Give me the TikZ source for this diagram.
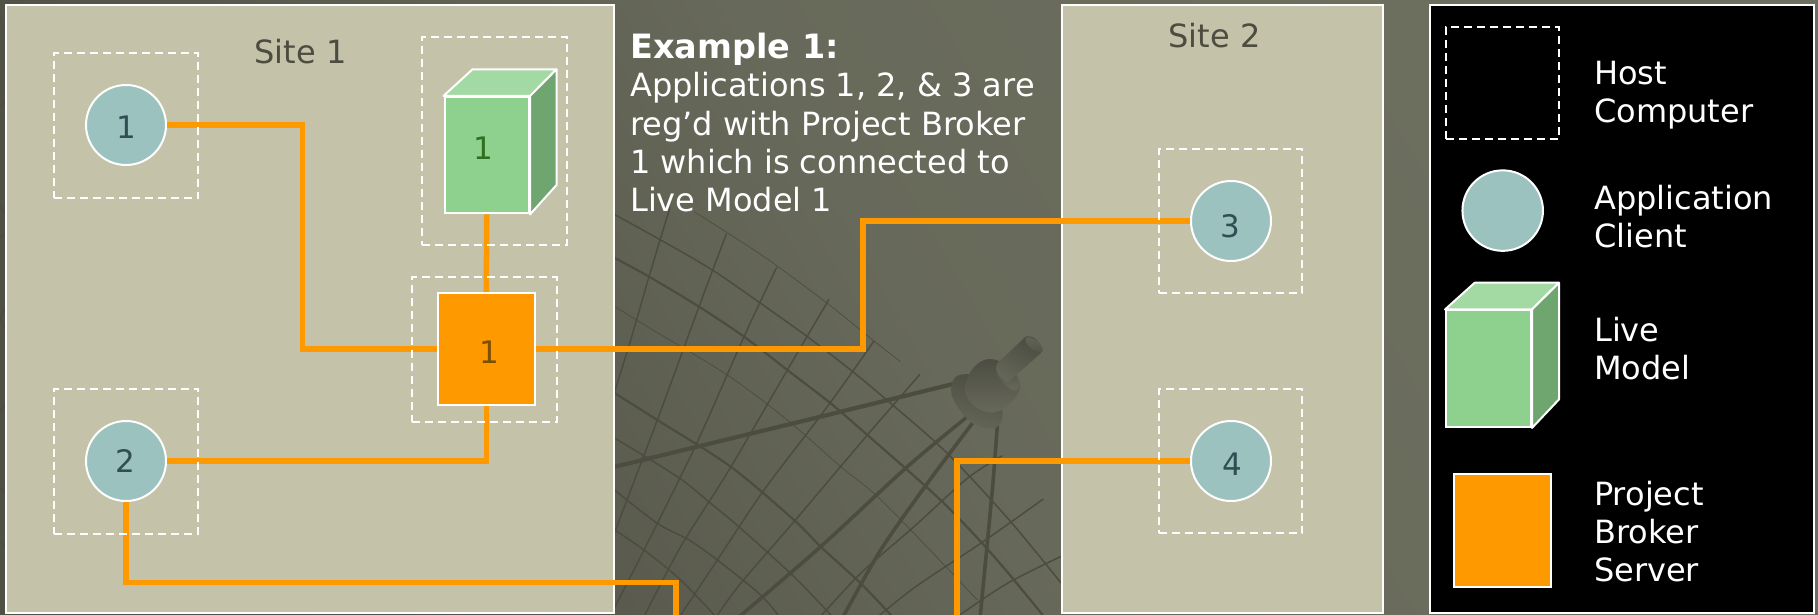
\documentclass[tikz,border=0pt]{standalone}
\usepackage{fontspec}
\setmainfont{DejaVu Sans}
\usetikzlibrary{shapes.geometric}
\definecolor{panelc}{HTML}{C4C2A8}
\definecolor{wirec}{HTML}{FF9900}
\definecolor{appc}{HTML}{9CC2C0}
\definecolor{cubefront}{HTML}{8ED08E}
\definecolor{cubetop}{HTML}{A3D9A3}
\definecolor{cubeside}{HTML}{6FA66F}
\definecolor{dishc}{HTML}{4C4D40}
\definecolor{bglight}{HTML}{6D6F5F}
\definecolor{bgdark}{HTML}{505145}
\definecolor{sitetext}{HTML}{4C4D40}
\definecolor{numapp}{HTML}{2F4F52}
\definecolor{numcube}{HTML}{2E7020}
\definecolor{numpb}{HTML}{7A4F00}
\pgfdeclarelayer{panels}
\pgfdeclarelayer{wires}
\pgfsetlayers{panels,wires,main}
\newcommand{\firstline}{\rule{0pt}{24pt}}
\tikzset{
  panel/.style={draw=white,line width=2pt,fill=panelc},
  hostbox/.style={draw=white,line width=2pt,dash pattern=on 8pt off 5pt,rectangle,inner sep=0pt,minimum width=144.5pt,minimum height=145pt},
  appnode/.style={circle,draw=white,line width=2pt,fill=appc,inner sep=0pt,minimum size=80pt},
  pbnode/.style={rectangle,draw=white,line width=2pt,fill=wirec,inner sep=0pt,minimum width=96.5pt,minimum height=112pt},
  cubenode/.style={rectangle,draw=white,line width=2pt,fill=cubefront,inner sep=0pt,minimum width=84.5pt,minimum height=116.5pt},
  cubeface/.style={draw=white,line width=2pt,line join=round},
  wire/.style={draw=wirec,line width=5.5pt},
  num/.style={font=\fontsize{31}{36}\selectfont,inner sep=0pt},
  sitelabel/.style={font=\fontsize{32}{36}\selectfont,text=sitetext,inner sep=0pt},
  whitetext/.style={text=white,inner sep=0pt,align=left,anchor=north west,font=\fontsize{32}{38.2}\selectfont},
  rib/.style={draw=dishc,line width=1.5pt},
  ribfaint/.style={draw=dishc,line width=.7pt},
  arcthick/.style={draw=dishc,line width=2.2pt},
  strut/.style={draw=dishc,line width=3.6pt}
}
\begin{document}
\begin{tikzpicture}[x=1pt,y=-1pt]
\useasboundingbox (0,0) rectangle (1818,614);
\begin{pgfonlayer}{panels}
\shade[bottom color=bgdark,top color=bglight,middle color=bglight!80!bgdark,shading angle=-60] (0,0) rectangle (1818,614);
% stray dish lines on the left margin
\draw[rib] (0,106)--(6,102) (0,206)--(6,214) (0,238)--(6,233) (6,305)--(0,318)--(6,330) (0,412)--(6,402) (0,488)--(6,494) (0,542)--(6,547);
% satellite dish drawn in the gap between the sites
\begin{scope}[shift={(614,190)},x=.33333pt,y=-.33333pt]
\draw[rib] plot[smooth] coordinates {(168,52)(105,260)(50,450)(-15,660)};
\draw[rib] plot[smooth] coordinates {(337,132)(255,350)(130,690)(-5,1045)};
\draw[rib] plot[smooth] coordinates {(488,232)(390,440)(248,760)(90,1080)(-5,1265)};
\draw[rib] plot[smooth] coordinates {(645,328)(520,540)(345,840)(200,1070)(85,1290)};
\draw[rib] plot[smooth] coordinates {(780,453)(640,650)(450,900)(310,1110)(190,1290)};
\draw[rib] plot[smooth] coordinates {(918,553)(760,735)(540,995)(380,1180)(300,1290)};
\draw[rib] plot[smooth] coordinates {(1165,797)(1060,865)(900,1010)(740,1150)(610,1290)};
\draw[rib] plot[smooth] coordinates {(1288,927)(1100,1060)(905,1190)(780,1290)};
\draw[rib] plot[smooth] coordinates {(1350,1095)(1180,1180)(1030,1280)};
\draw[ribfaint] plot[smooth] coordinates {(240,65)(450,200)(640,340)(780,453)(860,515)};
\draw[rib] plot[smooth] coordinates {(-5,70)(140,150)(295,240)(440,340)(580,440)(710,540)(830,640)(1000,790)(1190,995)(1350,1190)};
\draw[arcthick] plot[smooth] coordinates {(-5,200)(105,260)(255,350)(390,440)(520,540)(650,640)(760,735)(880,840)(990,940)(1105,1060)(1200,1170)(1290,1280)};
\draw[ribfaint] plot[smooth] coordinates {(-5,345)(100,410)(340,555)(520,690)(680,830)(780,910)(900,1030)(1090,1230)};
\draw[arcthick] plot[smooth] coordinates {(-5,605)(130,690)(350,830)(540,990)(620,1070)(740,1180)(840,1285)};
\draw[rib] plot[smooth] coordinates {(-5,740)(190,860)(290,940)(380,1015)(540,1160)(660,1285)};
\draw[rib] plot[smooth] coordinates {(-5,895)(130,1000)(225,1050)(310,1110)(440,1215)(500,1285)};
\draw[rib] plot[smooth] coordinates {(-5,1015)(90,1080)(200,1170)(310,1285)};
\draw[strut,line width=4.2pt] (-5,832)--(250,770)--(620,680)--(1025,580);
\draw[strut] plot[smooth] coordinates {(1060,680)(880,830)(620,1070)(370,1285)};
\draw[strut] plot[smooth] coordinates {(1075,700)(940,880)(800,1080)(685,1285)};
\draw[strut] plot[smooth] coordinates {(1150,705)(1135,900)(1098,1285)};
% feed horn
\shade[top color=black!30!bglight,bottom color=black!8!bglight,shading angle=-15]
  (1045,553) .. controls (1015,555) and (1005,590) .. (1015,620) .. controls (1030,660) and (1070,710) .. (1120,715)
  .. controls (1150,718) and (1168,705) .. (1166,665) -- (1100,560) .. controls (1085,552) and (1060,552) .. (1045,553) -- cycle;
\shade[top color=black!30!bglight,bottom color=black!6!bglight]
  (1130,507) .. controls (1095,505) and (1060,545) .. (1052,590) .. controls (1050,630) and (1090,668) .. (1135,668)
  .. controls (1170,665) and (1220,620) .. (1218,585) .. controls (1212,545) and (1165,508) .. (1130,507) -- cycle;
\shade[top color=black!28!bglight,bottom color=black!4!bglight]
  (1160,515) .. controls (1145,525) and (1142,540) .. (1150,555) .. controls (1165,580) and (1195,610) .. (1210,600) -- (1218,585) .. controls (1210,545) and (1180,520) .. (1160,515) -- cycle;
\shade[top color=black!32!bglight,bottom color=black!8!bglight,shading angle=-30]
  (1235,440) -- (1150,520) .. controls (1140,535) and (1150,560) .. (1180,578) -- (1280,490) .. controls (1290,470) and (1265,432) .. (1235,440) -- cycle;
\shade[top color=black!8!bglight,bottom color=black!25!bglight]
  (1235,445) .. controls (1250,430) and (1292,465) .. (1286,485) .. controls (1272,495) and (1228,465) .. (1235,445) -- cycle;
\end{scope}
% panels
\draw[panel] (6,5) rectangle (614,613);
\draw[panel] (1062,5) rectangle (1383,613);
\draw[panel,fill=black] (1430,5) rectangle (1814,613);
\end{pgfonlayer}

% hosts
\node[hostbox] (hostA) at (126.2,125.5) {};
\node[hostbox,minimum height=208.5pt] (hostB) at (494.5,141.2) {};
\node[hostbox] (hostC) at (484.5,349.5) {};
\node[hostbox] (hostD) at (126.2,461) {};
\node[hostbox,minimum width=143.5pt,minimum height=144pt] (hostE) at (1230.7,221) {};
\node[hostbox,minimum width=143.5pt,minimum height=144pt] (hostF) at (1230.7,461) {};

% applications
\node[appnode] (app1) at (126,125) {};
\node[appnode] (app2) at (126,461) {};
\node[appnode] (app3) at (1231,221) {};
\node[appnode] (app4) at (1231,461) {};
\node[num,text=numapp] (app1t) at (126,127) {1};
\node[num,text=numapp] (app2t) at (125.5,460.5) {2};
\node[num,text=numapp] (app3t) at (1230,226.5) {3};
\node[num,text=numapp] (app4t) at (1232,464) {4};

% live model cube
\node[cubenode] (model) at (486.75,155.2) {};
\draw[cubeface,fill=cubetop] (model.north west) -- (472.5,69.3) -- (556.5,69.3) -- (model.north east) -- cycle;
\draw[cubeface,fill=cubeside] (model.north east) -- (556.5,69.3) -- (556.5,185) -- (model.south east) -- cycle;
\node[num,text=numcube] (modelt) at (483,148.5) {1};

% project broker
\node[pbnode] (pb) at (486.3,349) {};
\node[num,text=numpb] (pbt) at (489.5,352) {1};

% connectors
\coordinate (j1) at (302.5,349);
\coordinate (j2) at (676,582.6);
\coordinate (j3) at (863,349);
\coordinate (e1) at (676,618);
\coordinate (e2) at (957,618);
\begin{pgfonlayer}{wires}
\draw[wire] (app1.east) -| (j1) -- (pb.west);
\draw[wire] (model.south) -- (pb.north);
\draw[wire] (app2.east) -| (pb.south);
\draw[wire] (app2.south) |- (j2) -- (e1);
\draw[wire] (pb.east) -- (j3) |- (app3.west);
\draw[wire] (app4.west) -| (e2);
\end{pgfonlayer}

% labels
\node[sitelabel] (site1) at (300.5,52) {Site 1};
\node[sitelabel] (site2) at (1214.5,36) {Site 2};
\node[whitetext] (example) at (630,33) {\firstline{\fontsize{33.5}{38.2}\selectfont\bfseries Example 1:}\\Applications 1, 2, \& 3 are\\reg’d with Project Broker\\1 which is connected to\\Live Model 1};

% legend
\node[hostbox,minimum width=113pt,minimum height=112pt] (lhost) at (1502.5,83) {};
\node[appnode,minimum size=80.5pt] (lapp) at (1502.7,210.6) {};
\node[cubenode,minimum width=85pt,minimum height=116.5pt] (lmodel) at (1488.5,368.7) {};
\draw[cubeface,fill=cubetop] (lmodel.north west) -- (1474.7,282.7) -- (1559,282.7) -- (lmodel.north east) -- cycle;
\draw[cubeface,fill=cubeside] (lmodel.north east) -- (1559,282.7) -- (1559,399.4) -- (lmodel.south east) -- cycle;
\node[pbnode,minimum width=97pt,minimum height=112.5pt] (lpb) at (1502.5,530.7) {};
\node[whitetext] (lt1) at (1594,60.5) {\firstline Host\\Computer};
\node[whitetext] (lt2) at (1594,184.5) {\firstline Application\\Client};
\node[whitetext] (lt3) at (1594,317) {\firstline Live\\Model};
\node[whitetext] (lt4) at (1594,481) {\firstline Project\\Broker\\Server};
\end{tikzpicture}
\end{document}
